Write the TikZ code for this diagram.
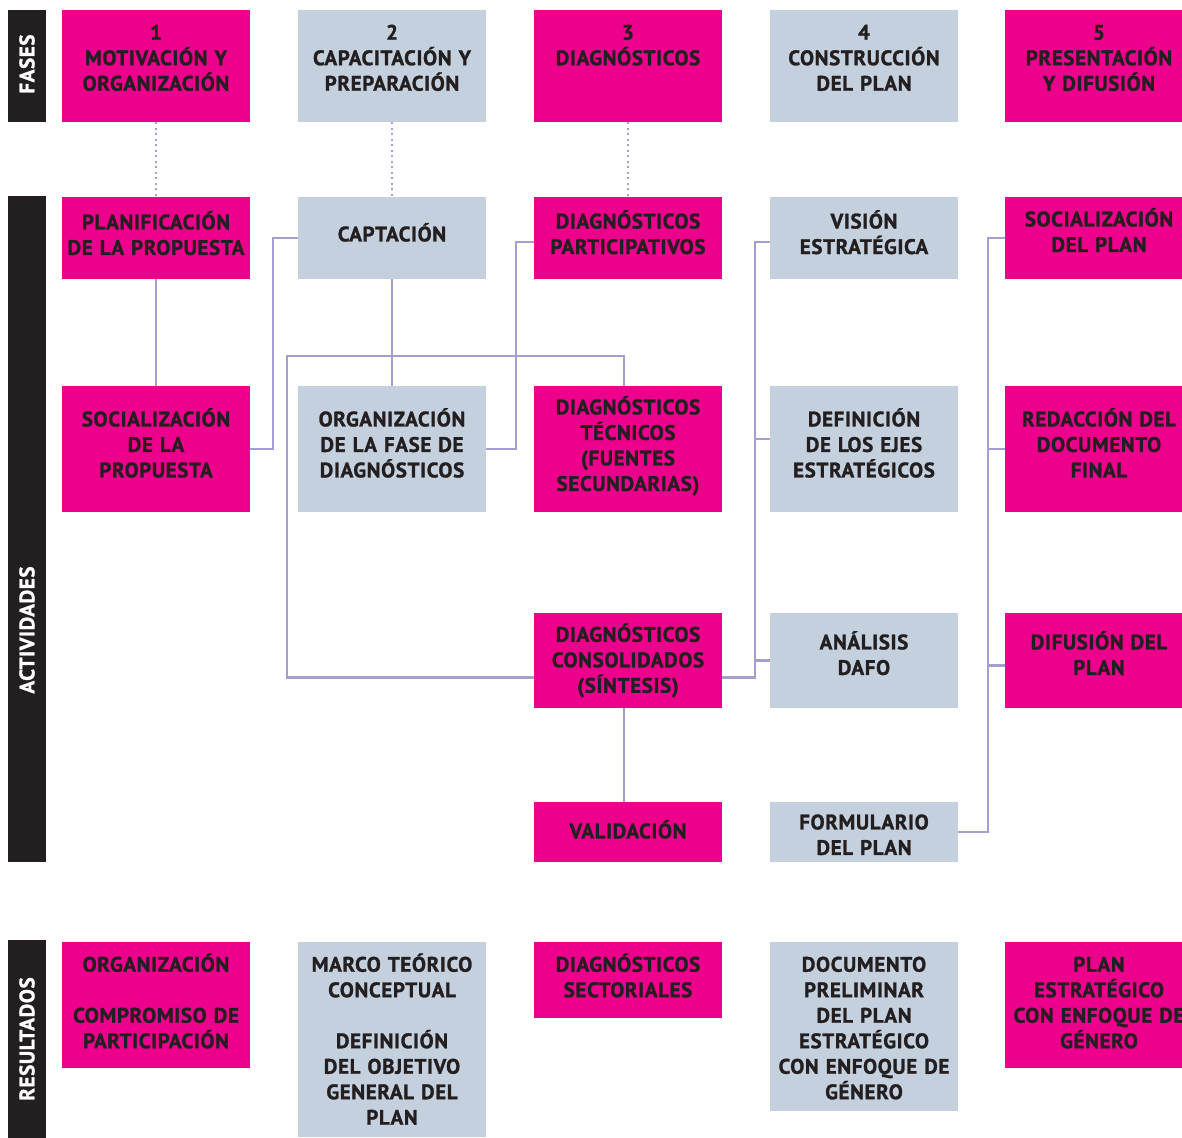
\documentclass[tikz,border=0pt]{standalone}
\usepackage{fontspec}
\setmainfont{PT Sans}[LetterSpace=3, BoldFeatures={FakeBold=1.3}]
\definecolor{fucsia}{HTML}{EC008C}
\definecolor{gris}{HTML}{C5D0DE}
\definecolor{lila}{HTML}{A59ECF}
\definecolor{oscuro}{HTML}{231F20}
\begin{document}
\begin{tikzpicture}[x=1pt, y=-1pt,
  caja/.style={align=center, text width=188pt, inner xsep=0pt, inner ysep=0pt, minimum width=188pt,
    text=oscuro, font=\fontsize{21}{25.5}\selectfont\bfseries},
  rosa/.style={caja, fill=fucsia},
  azul/.style={caja, fill=gris},
  arriba/.style={anchor=north, text height=29.5pt, text depth=#1},
  txt/.style={text height=20pt, text depth=#1},
  barra/.style={fill=oscuro, minimum width=38pt, inner sep=0pt},
  rotulo/.style={rotate=90, text=white, font=\fontsize{21}{25}\selectfont\bfseries},
  enlace/.style={draw=lila, line width=2.3pt},
  guia/.style={draw=lila, line width=1.8pt, dash pattern=on 1.8pt off 3.7pt}]
\useasboundingbox (0,0) rectangle (1182,1137);
\node[barra, minimum height=112pt] (bfases) at (27,66) {};
\node[barra, minimum height=666pt] (bact) at (27,529) {};
\node[barra, minimum height=200pt] (bres) at (27,1040) {};
\node[rotulo] (tfases) at (27,64) {FASES};
\node[rotulo] (tact) at (27,630) {ACTIVIDADES};
\node[rotulo] (tres) at (27,1039) {RESULTADOS};
\node[rosa, arriba=82.5pt] (f1) at (156,10) {1\\MOTIVACIÓN Y\\ORGANIZACIÓN};
\node[azul, arriba=82.5pt] (f2) at (392,10) {2\\CAPACITACIÓN Y\\PREPARACIÓN};
\node[rosa, arriba=82.5pt] (f3) at (628,10) {3\\DIAGNÓSTICOS};
\node[azul, arriba=82.5pt] (f4) at (864,10) {4\\CONSTRUCCIÓN\\DEL PLAN};
\node[rosa, arriba=82.5pt] (f5) at (1099,10) {5\\PRESENTACIÓN\\Y DIFUSIÓN};
\node[rosa, minimum height=82pt, txt=37.2pt] (planif) at (156,238) {PLANIFICACIÓN\\DE LA PROPUESTA};
\node[azul, minimum height=82pt, txt=13.2pt] (capt) at (392,238) {CAPTACIÓN};
\node[rosa, minimum height=82pt, txt=39pt] (diagpart) at (628,238) {DIAGNÓSTICOS\\PARTICIPATIVOS};
\node[azul, minimum height=82pt, txt=39pt] (vision) at (864,238) {VISIÓN\\ESTRATÉGICA};
\node[rosa, minimum height=82pt, txt=43.2pt] (socplan) at (1099,238) {SOCIALIZACIÓN\\DEL PLAN};
\node[rosa, minimum height=126pt, txt=65.2pt] (socprop) at (156,449) {SOCIALIZACIÓN\\DE LA\\PROPUESTA};
\node[azul, minimum height=126pt, txt=65.2pt] (orgdiag) at (392,449) {ORGANIZACIÓN\\DE LA FASE DE\\DIAGNÓSTICOS};
\node[rosa, minimum height=126pt, txt=89.2pt] (diagtec) at (628,449) {DIAGNÓSTICOS\\TÉCNICOS\\(FUENTES\\SECUNDARIAS)};
\node[azul, minimum height=126pt, txt=65.2pt] (ejes) at (864,449) {DEFINICIÓN\\DE LOS EJES\\ESTRATÉGICOS};
\node[rosa, minimum height=126pt, txt=65.2pt] (redac) at (1099,449) {REDACCIÓN DEL\\DOCUMENTO\\FINAL};
\node[rosa, minimum height=95pt, txt=57.5pt] (diagcons) at (628,660.5) {DIAGNÓSTICOS\\CONSOLIDADOS\\(SÍNTESIS)};
\node[azul, minimum height=95pt, txt=42.2pt] (dafo) at (864,660.5) {ANÁLISIS\\DAFO};
\node[rosa, minimum height=95pt, txt=42.2pt] (difusion) at (1099,660.5) {DIFUSIÓN DEL\\PLAN};
\node[rosa, minimum height=60pt, txt=7.2pt] (valid) at (628,832) {VALIDACIÓN};
\node[azul, minimum height=60pt, txt=25.2pt] (formul) at (864,832) {FORMULARIO\\DEL PLAN};
\node[rosa, arriba=96.5pt] (r1) at (156,942) {ORGANIZACIÓN\\[25.5pt]COMPROMISO DE\\PARTICIPACIÓN};
\node[azul, arriba=165.5pt] (r2) at (392,942) {MARCO TEÓRICO\\CONCEPTUAL\\[25.5pt]DEFINICIÓN\\DEL OBJETIVO\\GENERAL DEL\\PLAN};
\node[rosa, arriba=46.5pt] (r3) at (628,942) {DIAGNÓSTICOS\\SECTORIALES};
\node[azul, arriba=139.5pt] (r4) at (864,942) {DOCUMENTO\\PRELIMINAR\\DEL PLAN\\ESTRATÉGICO\\CON ENFOQUE DE\\GÉNERO};
\node[rosa, arriba=96.5pt] (r5) at (1099,942) {PLAN\\ESTRATÉGICO\\CON ENFOQUE DE\\GÉNERO};
\draw[guia] (f1) -- (planif);
\draw[guia] (f2) -- (capt);
\draw[guia] (f3) -- (diagpart);
\draw[enlace] (planif) -- (socprop);
\draw[enlace] (socprop.east) -- ++(23,0) |- (capt.west);
\draw[enlace] (capt) -- (orgdiag);
\draw[enlace] (orgdiag.east) -- ++(30,0) |- ([yshift=-4pt]diagpart.west);
\draw[enlace] ([xshift=-4pt]diagtec.north) |- (287,356) |- ([yshift=-17pt]diagcons.west);
\draw[enlace] ([xshift=-4pt]diagcons.south) -- ([xshift=-4pt]valid.north);
\draw[enlace] ([yshift=-17pt]diagcons.east) -- ++(33,0) |- ([yshift=-4pt]vision.west);
\draw[enlace] ([yshift=10pt]ejes.west) -- ++(-15,0);
\draw[enlace] (dafo.west) -- ++(-15,0);
\draw[enlace] (formul.east) -- ++(30,0) |- (socplan.west);
\draw[enlace] (redac.west) -- ++(-17,0);
\draw[enlace] ([yshift=-5pt]difusion.west) -- ++(-17,0);
\end{tikzpicture}
\end{document}
